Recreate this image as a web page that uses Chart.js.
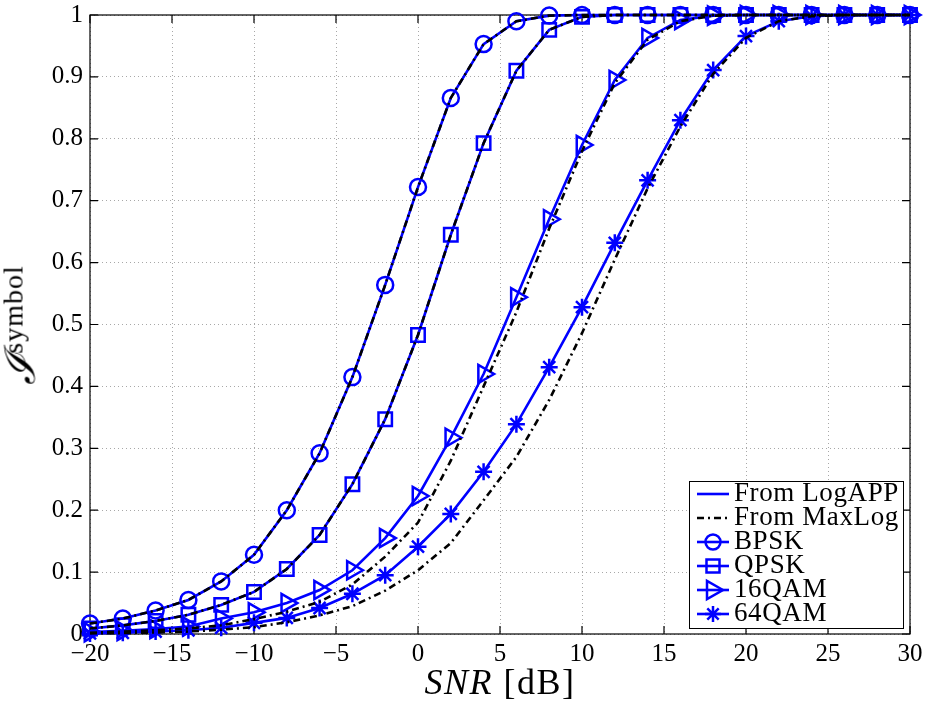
<!DOCTYPE html>
<html><head><meta charset="utf-8">
<script src="https://cdn.jsdelivr.net/npm/chart.js@4/dist/chart.umd.min.js"></script>
<style>
html,body{margin:0;padding:0;background:#fff;}
#wrap{position:relative;width:928px;height:713px;overflow:hidden;}
#c{position:absolute;left:0;top:0;}
.serif{font-family:"Liberation Serif","DejaVu Serif",serif;color:#000;}
#xt{position:absolute;left:250px;width:500px;top:664px;font-size:36px;line-height:36px;letter-spacing:1.5px;text-align:center;white-space:nowrap;}
#yt{position:absolute;left:23px;top:325px;white-space:nowrap;transform:translate(-50%,-50%) rotate(-90deg);font-size:42px;line-height:42px;}
#yt .sup{font-size:28px;position:relative;top:-12px;letter-spacing:1px;}
#leg{position:absolute;left:689px;top:481px;width:213px;height:146px;border:1.5px solid #000;background:#fff;}
.row{position:absolute;left:0;height:24px;width:213px;}
.row svg{position:absolute;left:5px;top:0;}
.row span{position:absolute;left:44px;top:-3px;font-size:27px;line-height:27px;letter-spacing:0.6px;white-space:nowrap;}
</style></head>
<body>
<div id="wrap">
<canvas id="c" width="928" height="713"></canvas>
<div id="xt" class="serif"><i>SNR</i> [dB]</div>
<div id="yt" class="serif"><i>ℐ</i><span class="sup">symbol</span></div>
<div id="leg" class="serif"></div>
</div>
<script>
// ---- data ----
const snr = [-20,-18,-16,-14,-12,-10,-8,-6,-4,-2,0,2,4,6,8,10,12,14,16,18,20,22,24,26,28,30];
const bpskLogAPP = [0.017,0.025,0.038,0.055,0.085,0.128,0.2,0.292,0.415,0.564,0.722,0.866,0.953,0.99,0.999,1,1,1,1,1,1,1,1,1,1,1];
const qpskLogAPP = [0.009,0.014,0.021,0.031,0.047,0.068,0.105,0.16,0.242,0.347,0.483,0.645,0.793,0.91,0.976,0.997,1,1,1,1,1,1,1,1,1,1];
const qam16LogAPP = [0.003,0.005,0.008,0.012,0.025,0.035,0.05,0.071,0.103,0.155,0.223,0.317,0.42,0.544,0.67,0.79,0.895,0.963,0.992,0.999,1,1,1,1,1,1];
const qam64LogAPP = [0.001,0.002,0.004,0.006,0.01,0.018,0.026,0.042,0.065,0.095,0.141,0.194,0.262,0.339,0.431,0.528,0.632,0.733,0.83,0.911,0.966,0.99,0.998,1,1,1];
const bpskMaxLog = [0.017,0.025,0.038,0.055,0.085,0.128,0.2,0.292,0.415,0.564,0.722,0.866,0.953,0.99,0.999,1,1,1,1,1,1,1,1,1,1,1];
const qpskMaxLog = [0.009,0.014,0.021,0.031,0.047,0.068,0.105,0.16,0.242,0.347,0.483,0.645,0.793,0.91,0.976,0.997,1,1,1,1,1,1,1,1,1,1];
const qam16MaxLog = [0.002,0.004,0.006,0.009,0.014,0.024,0.036,0.052,0.08,0.125,0.18,0.28,0.4,0.52,0.655,0.78,0.89,0.96,0.99,0.999,1,1,1,1,1,1];
const qam64MaxLog = [0.001,0.0015,0.0025,0.004,0.007,0.011,0.019,0.03,0.045,0.07,0.103,0.147,0.216,0.286,0.378,0.486,0.605,0.72,0.82,0.905,0.963,0.99,0.998,1,1,1];
const xTicks = [-20,-15,-10,-5,0,5,10,15,20,25,30];
const yTicks = [0,0.1,0.2,0.3,0.4,0.5,0.6,0.7,0.8,0.9,1];
const seriesNames = ['BPSK','QPSK','16QAM','64QAM'];
const legendLineNames = ['From LogAPP','From MaxLog'];

const BLUE = '#0000ff';
const pts = a => a.map((v,i)=>({x:snr[i], y:v}));
const markers = [
  {style:'circle', r:8, rot:0},
  {style:'rect', r:9.5, rot:0},
  {style:'triangle', r:10.5, rot:90},
  {style:'star', r:8.5, rot:0}
];
const logApp = [bpskLogAPP, qpskLogAPP, qam16LogAPP, qam64LogAPP];
const maxLog = [bpskMaxLog, qpskMaxLog, qam16MaxLog, qam64MaxLog];

const datasets = [];
logApp.forEach((a,i)=>{
  datasets.push({label:seriesNames[i]+' LogAPP', data:pts(a), borderColor:BLUE, borderWidth:2.6,
    pointStyle:markers[i].style, pointRadius:markers[i].r, pointRotation:markers[i].rot,
    pointBorderColor:BLUE, pointBackgroundColor:'rgba(0,0,0,0)', pointBorderWidth:2.5,
    tension:0, order:2, clip:false});
});
maxLog.forEach((a,i)=>{
  datasets.push({label:seriesNames[i]+' MaxLog', data:pts(a), borderColor:'#000', borderWidth:2.6,
    borderDash:[7,4,2,4], pointRadius:0, tension:0, order:1, clip:false});
});

const FONT = {family:'"Liberation Serif","DejaVu Serif",serif', size:25};

const boxPlugin = {
  id:'box',
  beforeDatasetsDraw(chart){
    const {ctx, chartArea:a, scales:{x,y}} = chart;
    ctx.save();
    ctx.strokeStyle='#000'; ctx.lineWidth=1.2;
    ctx.strokeRect(a.left, a.top, a.right-a.left, a.bottom-a.top);
    const L=8;
    ctx.beginPath();
    xTicks.forEach(v=>{const p=x.getPixelForValue(v);
      ctx.moveTo(p,a.bottom); ctx.lineTo(p,a.bottom-L);
      ctx.moveTo(p,a.top); ctx.lineTo(p,a.top+L);});
    yTicks.forEach(v=>{const p=y.getPixelForValue(v);
      ctx.moveTo(a.left,p); ctx.lineTo(a.left+L,p);
      ctx.moveTo(a.right,p); ctx.lineTo(a.right-L,p);});
    ctx.stroke();
    ctx.restore();
  }
};

new Chart(document.getElementById('c'), {
  type:'line',
  data:{datasets},
  options:{
    responsive:false, animation:false, devicePixelRatio:1,
    layout:{padding:{left:0,top:15,right:18,bottom:0}},
    plugins:{legend:{display:false}, tooltip:{enabled:false}},
    scales:{
      x:{type:'linear', min:-20, max:30,
        afterBuildTicks(s){ s.ticks = xTicks.map(v=>({value:v})); },
        afterFit(s){ s.height = 79; s.paddingLeft = 0; s.paddingRight = 0; },
        ticks:{font:FONT, color:'#000', padding:5, maxRotation:0, autoSkip:false,
          callback:v=> String(v).replace('-','\u2212')},
        grid:{color:'#a8a8a8', lineWidth:1, drawTicks:false},
        border:{display:false, dash:[1,3]}},
      y:{type:'linear', min:0, max:1,
        afterBuildTicks(s){ s.ticks = yTicks.map(v=>({value:v})); },
        afterFit(s){ s.width = 90; s.paddingTop = 0; s.paddingBottom = 0; },
        ticks:{font:FONT, color:'#000', padding:7, autoSkip:false,
          callback:v=> String(Math.round(v*10)/10)},
        grid:{color:'#a8a8a8', lineWidth:1, drawTicks:false},
        border:{display:false, dash:[1,3]}}
    }
  },
  plugins:[boxPlugin]
});

// ---- HTML legend ----
const leg = document.getElementById('leg');
const rowsY = [0,24,48,72,96,120];
function icon(kind, i){
  let s = '<svg width="36" height="24" viewBox="0 0 36 24">';
  if(kind==='line') s += '<line x1="2" y1="12" x2="34" y2="12" stroke="'+BLUE+'" stroke-width="2.6"/>';
  else if(kind==='dash') s += '<line x1="2" y1="12" x2="34" y2="12" stroke="#000" stroke-width="2.6" stroke-dasharray="7,4,2,4"/>';
  else {
    s += '<line x1="2" y1="12" x2="34" y2="12" stroke="'+BLUE+'" stroke-width="2.6"/>';
    const st = 'fill="none" stroke="'+BLUE+'" stroke-width="2.5"';
    if(i===0) s += '<circle cx="18" cy="12" r="7.5" '+st+'/>';
    if(i===1) s += '<rect x="11.5" y="5.5" width="13" height="13" '+st+'/>';
    if(i===2) s += '<polygon points="28,12 12,3 12,21" '+st+'/>';
    if(i===3) s += '<path d="M18 4V20M10 12H26M12.3 6.3L23.7 17.7M23.7 6.3L12.3 17.7" '+st+'/>';
  }
  return s+'</svg>';
}
const entries = [['line',0,legendLineNames[0]],['dash',0,legendLineNames[1]]]
  .concat(seriesNames.map((n,i)=>['mk',i,n]));
entries.forEach((e,k)=>{
  const d = document.createElement('div');
  d.className='row'; d.style.top = rowsY[k]+'px';
  d.innerHTML = icon(e[0],e[1]) + '<span>'+e[2]+'</span>';
  leg.appendChild(d);
});
</script>
</body></html>
